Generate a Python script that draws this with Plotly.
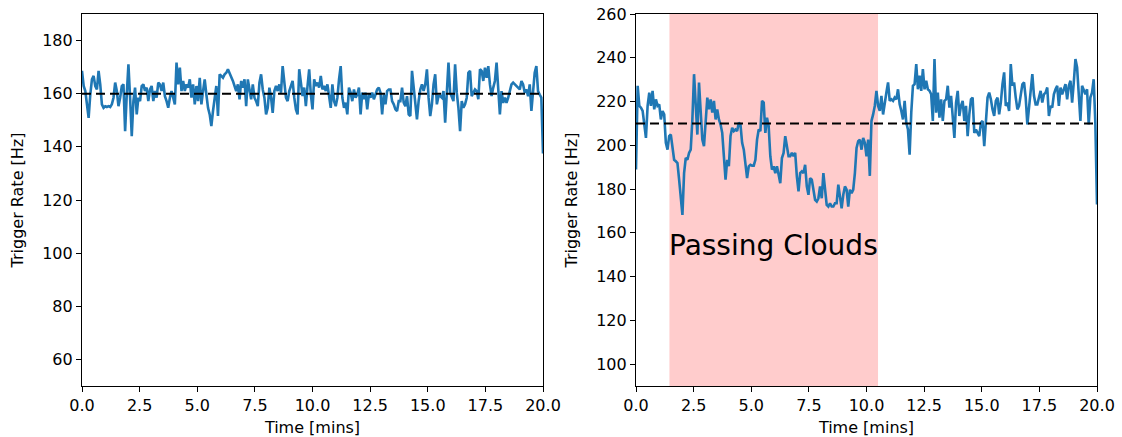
import numpy as np
import plotly.graph_objects as go

# ---- data ----
left_rate = [
    168.6, 162.9, 161.0, 156.0, 150.9, 159.7, 165.4, 166.7, 162.9, 161.6,
    168.6, 163.5, 156.0, 154.7, 155.3, 155.0, 155.3, 155.0, 156.0, 158.5,
    164.2, 161.0, 155.3, 158.5, 162.9, 163.5, 145.9, 159.7, 171.1, 158.5,
    144.0, 157.2, 162.3, 152.2, 158.5, 157.2, 162.9, 163.5, 161.0, 162.3,
    157.2, 161.6, 162.9, 157.2, 161.0, 158.5, 164.2, 163.5, 161.0, 164.2,
    159.1, 157.2, 154.7, 158.5, 161.0, 158.5, 156.0, 171.7, 163.5, 169.8,
    161.0, 164.8, 161.0, 163.5, 162.3, 165.4, 158.5, 163.5, 156.0, 162.9,
    157.2, 166.0, 156.0, 161.0, 165.4, 159.7, 154.7, 152.2, 147.8, 153.5,
    158.5, 162.9, 151.6, 167.3, 166.7, 166.0, 167.3, 167.9, 169.2, 167.9,
    166.0, 164.8, 162.9, 161.0,
    163.5, 157.9, 164.8, 162.3, 165.4, 155.3, 165.4, 161.0, 157.9, 163.5,
    158.5, 157.2, 155.3, 164.2, 167.3, 161.6, 158.5, 152.2, 154.7, 162.3,
    158.5, 152.8, 161.0, 162.9, 161.0, 163.5, 160.4, 170.4, 162.9, 158.5,
    157.2, 161.0, 162.9, 164.8, 158.5, 154.1, 152.2, 169.2, 164.2, 159.1,
    162.3, 155.3, 162.9, 169.2, 159.7, 154.1, 165.4, 162.9, 164.2, 162.3,
    166.7, 161.6, 162.9, 161.0, 163.5, 159.1, 154.7, 163.5, 157.2, 155.3,
    158.5, 165.4, 170.4, 158.5, 154.7, 156.6, 152.2, 162.3, 160.4, 157.2,
    161.6, 158.5, 159.7, 162.3, 152.2, 160.4, 157.9, 160.4, 154.1, 159.7,
    158.5, 160.4, 157.9, 159.7, 161.6, 162.3, 160.4, 152.2, 159.7, 156.0,
    161.0, 161.6,
    161.6, 157.2, 156.0, 154.1, 153.5, 157.2, 157.2, 162.3, 156.6, 155.3,
    159.1, 152.2, 151.6, 168.6, 162.3, 157.2, 150.3, 157.2, 161.6, 163.5,
    161.0, 163.5, 169.2, 158.5, 151.6, 156.0, 163.5, 167.3, 156.0, 159.1,
    159.1, 158.5, 161.0, 149.1, 162.3, 171.7, 160.4, 159.1, 157.2, 171.1,
    160.4, 154.7, 145.9, 157.2, 154.7, 156.0, 158.5, 167.9, 168.6, 159.1,
    160.4, 161.6, 161.0, 157.9, 169.2, 168.6, 164.8, 169.8, 166.0, 170.4,
    163.5, 159.1, 162.3, 164.8, 171.7, 162.9, 152.2, 161.0, 156.6, 158.5,
    156.6, 158.5, 161.0, 163.5, 164.2, 163.5, 162.9, 162.3, 161.6, 164.8,
    163.5, 160.4, 161.6, 159.1, 163.5, 153.5, 161.0, 167.9, 170.4, 161.0,
    159.7, 158.5, 137.5,
]

right_rate = [
    188.9, 227.2, 218.0, 217.2, 215.7, 208.8, 203.4, 218.0, 224.1, 218.0,
    224.9, 216.4, 221.0, 218.0, 218.7, 211.8, 215.7, 214.1, 201.1, 198.0,
    204.2, 204.9, 198.0, 193.4, 192.7, 191.9, 184.3, 176.6, 168.2, 187.3,
    194.2, 193.4, 196.5, 198.0, 211.8, 232.5, 218.0, 204.9, 228.7, 214.9,
    202.6, 199.6, 211.8, 221.8, 216.4, 221.0, 214.9, 220.3, 211.8, 216.4,
    211.8, 209.5, 205.7, 193.4, 184.3, 193.4, 190.4, 204.2, 208.0, 206.5,
    207.2, 206.5, 210.3, 209.5, 201.1, 198.0, 191.1, 185.0, 190.4, 191.1,
    190.7, 190.7, 193.4, 202.6, 207.2, 206.5, 220.3, 219.5, 205.7, 212.6,
    208.8, 195.0, 188.9, 190.4, 187.3, 190.4, 186.6, 182.7, 194.2, 196.5,
    204.2, 200.3, 195.0, 195.0, 196.5, 195.0, 196.5, 185.8, 178.9, 187.3,
    188.1, 187.3, 191.1, 181.2, 177.4, 185.0, 184.3, 179.7, 175.1, 174.3,
    175.8, 181.2, 175.8, 187.3, 180.4, 172.8, 172.0, 173.5, 172.0, 172.0,
    173.5, 173.5, 182.0, 176.6, 171.2, 177.4, 181.2, 179.7, 172.0, 179.7,
    178.1, 179.7, 187.3, 198.8, 201.9, 202.6, 198.0, 203.4, 201.1, 195.0,
    202.6, 186.0, 211.1, 214.1, 218.0, 224.9, 218.0, 215.7, 222.6, 214.1,
    220.3, 224.1, 228.7, 220.3, 221.0, 220.3, 221.8, 221.0, 225.6, 218.7,
    215.7, 211.8, 220.3, 210.3, 207.2, 195.7, 214.9, 227.2, 227.9, 237.1,
    225.6, 231.8, 224.9, 234.8, 225.6, 229.5, 225.6, 224.9, 223.3, 211.1,
    239.4, 214.9, 224.1, 212.6, 221.0, 211.1, 220.3, 221.0, 227.2, 217.2,
    222.6, 211.8, 203.4, 219.5, 224.9, 213.4, 218.0, 220.3, 211.1, 218.0,
    204.2, 214.1, 221.0, 221.8, 205.7, 207.2, 205.7, 204.2, 210.3, 211.1,
    199.6, 210.3, 221.8, 224.1, 221.0, 216.4, 213.4, 220.3, 221.8, 214.1,
    219.5, 227.9, 233.3, 218.0, 219.5, 215.7, 237.1, 227.2, 228.7, 221.8,
    216.4, 218.0, 223.3, 227.9, 228.7, 221.8, 209.5, 218.0, 226.4, 232.5,
    222.6, 218.7, 218.7, 221.8, 224.9, 219.5, 223.3, 224.1, 226.4, 213.4,
    218.0, 217.2, 223.3, 225.6, 227.2, 218.0, 226.4, 223.3, 225.6, 227.9,
    221.0, 227.2, 229.5, 219.5, 228.7, 239.4, 235.6, 221.0, 211.1, 227.2,
    224.9, 223.3, 225.6, 209.5, 221.8, 224.1, 230.2, 210.3, 173.0,
]

duration_min = 20.0
left_mean = 160
right_mean = 210
cloud_start, cloud_end = 1.45, 10.5
cloud_label = "Passing Clouds"

left_time = np.linspace(0, duration_min, len(left_rate))
right_time = np.linspace(0, duration_min, len(right_rate))

x_ticks = [0, 2.5, 5, 7.5, 10, 12.5, 15, 17.5, 20]
left_y_ticks = [60, 80, 100, 120, 140, 160, 180]
right_y_ticks = [100, 120, 140, 160, 180, 200, 220, 240, 260]

# ---- figure ----
W, H = 1122, 437
BLUE = "#1f77b4"
FONT = "DejaVu Sans"

fig = go.Figure()

fig.add_trace(go.Scatter(x=left_time, y=left_rate, mode="lines",
                         line=dict(color=BLUE, width=2.6), xaxis="x", yaxis="y",
                         showlegend=False, hoverinfo="skip"))
fig.add_trace(go.Scatter(x=[0, duration_min], y=[left_mean, left_mean], mode="lines",
                         line=dict(color="black", width=2, dash="9px,5px"),
                         xaxis="x", yaxis="y", showlegend=False, hoverinfo="skip"))

fig.add_trace(go.Scatter(x=right_time, y=right_rate, mode="lines",
                         line=dict(color=BLUE, width=2.6), xaxis="x2", yaxis="y2",
                         showlegend=False, hoverinfo="skip"))
fig.add_trace(go.Scatter(x=[0, duration_min], y=[right_mean, right_mean], mode="lines",
                         line=dict(color="black", width=2, dash="9px,5px"),
                         xaxis="x2", yaxis="y2", showlegend=False, hoverinfo="skip"))

fig.add_shape(type="rect", xref="x2", yref="y2 domain", x0=cloud_start, x1=cloud_end,
              y0=0, y1=1, fillcolor="rgba(255,0,0,0.2)", line=dict(width=0), layer="below")

fig.add_annotation(x=(cloud_start + cloud_end) / 2, y=154, xref="x2", yref="y2",
                   text=cloud_label, showarrow=False, font=dict(size=28, color="black", family=FONT),
                   xanchor="center", yanchor="middle")

ydom = [(H - 386) / H, (H - 14) / H]
common_axis = dict(showline=True, linecolor="black", linewidth=1.2, mirror=True,
                   ticks="outside", ticklen=5, tickwidth=1.2, tickcolor="black",
                   showgrid=False, zeroline=False, automargin=False,
                   tickfont=dict(size=16, color="black", family=FONT))

fig.update_layout(
    width=W, height=H,
    margin=dict(l=0, r=0, t=0, b=0),
    paper_bgcolor="white", plot_bgcolor="white",
    font=dict(family=FONT, color="black"),
    xaxis=dict(domain=[82 / W, 543 / W], range=[0, duration_min], anchor="y",
               tickvals=x_ticks, tickformat=".1f",
               title=dict(text="Time [mins]", font=dict(size=16), standoff=8), **common_axis),
    yaxis=dict(domain=ydom, range=[50, 190], anchor="x", tickvals=left_y_ticks,
               title=dict(text="Trigger Rate [Hz]", font=dict(size=16), standoff=14), **common_axis),
    xaxis2=dict(domain=[636 / W, 1097 / W], range=[0, duration_min], anchor="y2",
                tickvals=x_ticks, tickformat=".1f",
                title=dict(text="Time [mins]", font=dict(size=16), standoff=8), **common_axis),
    yaxis2=dict(domain=ydom, range=[90, 260], anchor="x2", tickvals=right_y_ticks,
                title=dict(text="Trigger Rate [Hz]", font=dict(size=16), standoff=14), **common_axis),
)

fig.write_html("out.html")
